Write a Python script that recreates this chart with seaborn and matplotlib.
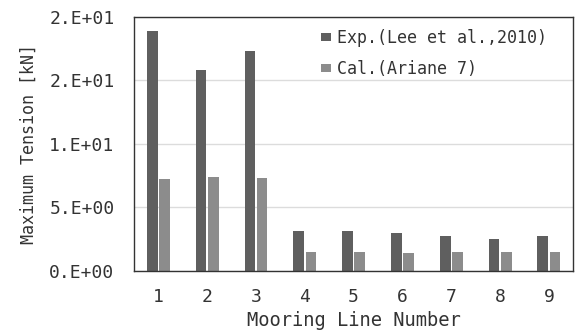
import matplotlib
matplotlib.use("Agg")
import matplotlib.pyplot as plt
from matplotlib.ticker import FuncFormatter, MultipleLocator
import seaborn as sns
import pandas as pd

# Maximum mooring line tension per line: experiment vs. calculation
lines = ["1", "2", "3", "4", "5", "6", "7", "8", "9"]
exp_tension = [18.9, 15.8, 17.3, 3.15, 3.15, 2.97, 2.71, 2.55, 2.71]
cal_tension = [7.27, 7.4, 7.3, 1.5, 1.5, 1.39, 1.5, 1.5, 1.5]
series = ["Exp.(Lee et al.,2010)", "Cal.(Ariane 7)"]
colors = ["#5f5f5f", "#8c8c8c"]

df = pd.DataFrame({
    "line": lines * 2,
    "tension": exp_tension + cal_tension,
    "source": [series[0]] * len(lines) + [series[1]] * len(lines),
})

sns.set_style("white")
plt.rcParams["font.family"] = ["DejaVu Sans Mono", "DejaVu Sans"]

fig = plt.figure(figsize=(5.75, 3.32), dpi=100)
ax = fig.add_axes([0.233, 0.184, 0.764, 0.765])

sns.barplot(data=df, x="line", y="tension", hue="source", hue_order=series,
            palette=colors, width=0.5, gap=0.12, saturation=1, ax=ax,
            edgecolor="none")

ax.set_xlim(-0.5, 8.5)
ax.set_ylim(0, 20)
ax.yaxis.set_major_locator(MultipleLocator(5))
ax.yaxis.set_major_formatter(FuncFormatter(lambda v, _: format(v, "#.0E")))
ax.grid(axis="y", color="#dcdcdc", linewidth=1)
ax.set_axisbelow(True)
for s in ax.spines.values():
    s.set_color("#333333")
    s.set_linewidth(1)

ax.tick_params(axis="both", length=0, labelsize=13, colors="#333333")
ax.tick_params(axis="y", pad=14)
ax.tick_params(axis="x", pad=12)
ax.set_xlabel("Mooring Line Number", fontsize=13.5, color="#333333", labelpad=4)
ax.set_ylabel("Maximum Tension [kN]", fontsize=12, color="#333333", labelpad=8)

leg = ax.legend(loc="upper right", bbox_to_anchor=(0.966, 1.0), frameon=False,
                fontsize=12, handlelength=0.6, handleheight=0.35,
                handletextpad=0.35, labelspacing=0.8, borderaxespad=0.3)
for t in leg.get_texts():
    t.set_color("#333333")

fig.savefig("out.png", dpi=100)
